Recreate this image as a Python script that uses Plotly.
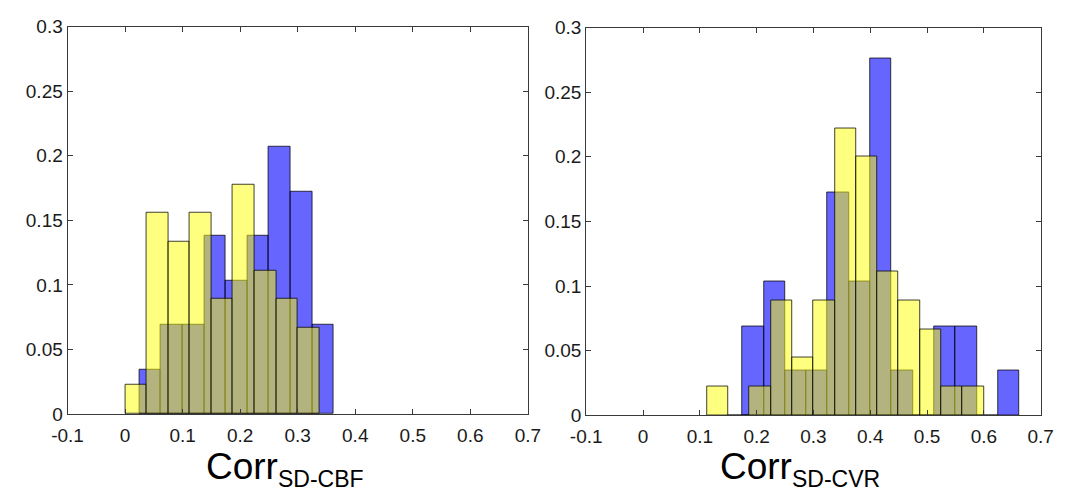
import plotly.graph_objects as go

# ---------------- data ----------------
bin_width = 0.0375

# Left panel: Corr SD-CBF
cbf_blue_left_edges = [0.025, 0.0625, 0.1, 0.1375, 0.175, 0.2125, 0.25, 0.2875, 0.325]
cbf_blue_counts = [1, 2, 2, 4, 3, 4, 6, 5, 2]          # N = 29
cbf_yellow_left_edges = [0.0, 0.0375, 0.075, 0.1125, 0.15, 0.1875, 0.225, 0.2625, 0.3]
cbf_yellow_counts = [1, 7, 6, 7, 4, 8, 5, 4, 3]        # N = 45

# Right panel: Corr SD-CVR
cvr_blue_left_edges = [0.175, 0.2125, 0.25, 0.2875, 0.325, 0.3625, 0.4, 0.4375,
                       0.475, 0.5125, 0.55, 0.5875, 0.625]
cvr_blue_counts = [2, 3, 1, 1, 5, 3, 8, 1, 0, 2, 2, 0, 1]   # N = 29
cvr_yellow_left_edges = [0.1125, 0.15, 0.1875, 0.225, 0.2625, 0.3, 0.3375, 0.375,
                         0.4125, 0.45, 0.4875, 0.525, 0.5625]
cvr_yellow_counts = [1, 0, 1, 4, 2, 4, 10, 9, 5, 4, 3, 1, 1]  # N = 45

x_tickvals = [-0.1, 0, 0.1, 0.2, 0.3, 0.4, 0.5, 0.6, 0.7]
x_ticktext = ["-0.1", "0", "0.1", "0.2", "0.3", "0.4", "0.5", "0.6", "0.7"]
y_tickvals = [0, 0.05, 0.1, 0.15, 0.2, 0.25, 0.3]
y_ticktext = ["0", "0.05", "0.1", "0.15", "0.2", "0.25", "0.3"]

title_main = "Corr"
title_subs = ["SD-CBF", "SD-CVR"]

# ---------------- styling ----------------
W, H = 1077, 498
BLUE = "rgba(0,0,255,0.6)"
YELLOW = "rgba(255,255,0,0.5)"
EDGE = "rgba(0,0,0,0.75)"
FONT = "Liberation Sans, Arial, Helvetica, sans-serif"
AX = "#3a3a3a"

fig = go.Figure()


def add_hist(left_edges, counts, color, xa, ya):
    total = sum(counts)
    centers = [e + bin_width / 2 for e in left_edges]
    probs = [c / total for c in counts]
    fig.add_trace(go.Bar(
        x=centers, y=probs, width=[bin_width] * len(centers),
        marker=dict(color=color, line=dict(color=EDGE, width=1)),
        xaxis=xa, yaxis=ya, showlegend=False, hoverinfo="skip",
    ))


add_hist(cbf_blue_left_edges, cbf_blue_counts, BLUE, "x", "y")
add_hist(cbf_yellow_left_edges, cbf_yellow_counts, YELLOW, "x", "y")
add_hist(cvr_blue_left_edges, cvr_blue_counts, BLUE, "x2", "y2")
add_hist(cvr_yellow_left_edges, cvr_yellow_counts, YELLOW, "x2", "y2")

# pixel boxes of the two axes
boxes = [(53, 526, 17.5, 421.7), (586, 1053, 18.3, 423.3)]


def xaxis_cfg(x0, x1, anchor):
    return dict(domain=[x0 / W, x1 / W], range=[-0.1, 0.7], anchor=anchor,
                tickvals=x_tickvals, ticktext=x_ticktext,
                ticks="inside", ticklen=5, tickcolor=AX, tickwidth=1,
                showline=True, linecolor=AX, linewidth=1, mirror="ticks",
                showgrid=False, zeroline=False, ticklabelstandoff=4,
                tickfont=dict(family=FONT, size=19, color="#1a1a1a"))


def yaxis_cfg(y0, y1, anchor):
    return dict(domain=[1 - y1 / H, 1 - y0 / H], range=[0, 0.3], anchor=anchor,
                tickvals=y_tickvals, ticktext=y_ticktext,
                ticks="inside", ticklen=5, tickcolor=AX, tickwidth=1,
                showline=True, linecolor=AX, linewidth=1, mirror="ticks",
                showgrid=False, zeroline=False,
                tickfont=dict(family=FONT, size=19, color="#1a1a1a"))


(l0, r0, t0, b0), (l1, r1, t1, b1) = boxes
fig.update_layout(
    width=W, height=H,
    margin=dict(l=0, r=0, t=0, b=0),
    paper_bgcolor="white", plot_bgcolor="white",
    barmode="overlay", bargap=0,
    xaxis=xaxis_cfg(l0, r0, "y"),
    yaxis=yaxis_cfg(t0, b0, "x"),
    xaxis2=xaxis_cfg(l1, r1, "y2"),
    yaxis2=yaxis_cfg(t1, b1, "x2"),
)

title_x = [276, 806]
for tx, sub in zip(title_x, title_subs):
    txt = f"{title_main}<sub><span style='font-size:23px'>{sub}</span></sub>"
    fig.add_annotation(
        text=txt, x=tx / W, y=1 - 453 / H, xref="paper", yref="paper",
        xanchor="center", yanchor="top", showarrow=False,
        font=dict(family=FONT, size=37, color="black"),
    )

fig.write_html("out.html")
